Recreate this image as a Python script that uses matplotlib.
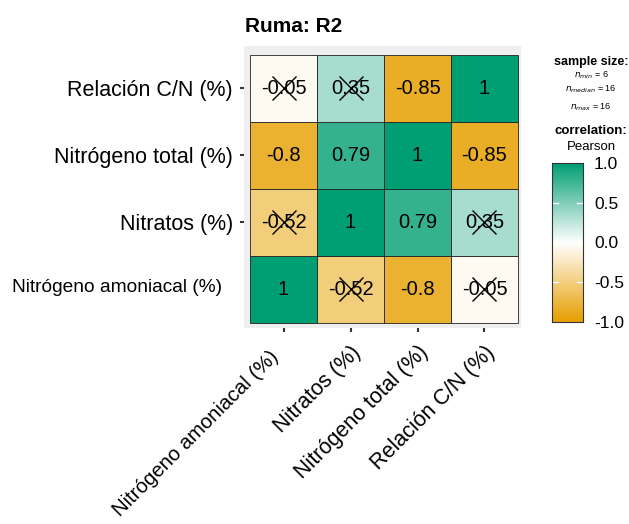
import numpy as np
import matplotlib
matplotlib.use("Agg")
import matplotlib.pyplot as plt
from matplotlib.colors import LinearSegmentedColormap, Normalize
from matplotlib.transforms import ScaledTranslation

plt.rcParams["font.family"] = ["Liberation Sans", "DejaVu Sans"]

# variables, bottom row first (x order = y order)
variables = ["Nitrógeno amoniacal (%)", "Nitratos (%)",
             "Nitrógeno total (%)", "Relación C/N (%)"]
# correlation matrix, rows/cols in the order of `variables`
corr = [
    [1.00, -0.52, -0.80, -0.05],
    [-0.52, 1.00, 0.79, 0.35],
    [-0.80, 0.79, 1.00, -0.85],
    [-0.05, 0.35, -0.85, 1.00],
]
# non significant pairs get crossed out
crossed = [
    [False, True, False, True],
    [True, False, False, True],
    [False, False, False, False],
    [True, True, False, False],
]
cb_ticks = [-1.0, -0.5, 0.0, 0.5, 1.0]

cmap = LinearSegmentedColormap.from_list("gg", ["#E69F00", "white", "#009E73"])
norm = Normalize(-1, 1)

fig = plt.figure(figsize=(6.29, 5.24), dpi=100)
ax = fig.add_axes([244 / 629, 1 - 328 / 524, 277 / 629, 282 / 524])
ax.set_facecolor("#EFEFEF")

n = len(variables)
for i in range(n):          # row (y)
    for j in range(n):      # column (x)
        v = corr[i][j]
        ax.add_patch(plt.Rectangle((j - 0.5, i - 0.5), 1, 1,
                                   facecolor=cmap(norm(v)),
                                   edgecolor="#222222", lw=0.6))
        ax.text(j, i, f"{v:g}", ha="center", va="center",
                fontsize=14.5, color="black")
        if crossed[i][j]:
            ax.plot(j, i, marker="x", ms=17, mew=1.0, color="black")

ax.set_xlim(-0.59, 3.545)
ax.set_ylim(-0.575, 3.634)
for s in ax.spines.values():
    s.set_visible(False)

ax.set_xticks(range(n))
ax.set_xticklabels([""] + variables[1:], rotation=45, ha="right", va="top",
                   rotation_mode="anchor", fontsize=15.5)
ax.set_yticks(range(1, n))
ax.set_yticklabels(variables[1:], fontsize=15.5)
ax.tick_params(axis="both", length=3, width=1.5, color="#333333", pad=5)
ax.tick_params(axis="x", pad=7)

# first x label sits a little off in the original
off = ScaledTranslation(-0.15, -0.19, fig.dpi_scale_trans)
ax.text(0, 0, variables[0], transform=ax.get_xaxis_transform() + off,
        rotation=45, ha="right", va="top", rotation_mode="anchor",
        fontsize=14.8)
fig.text(12 / 629, 1 - 287 / 524, variables[0], ha="left", va="center",
         fontsize=13.8)

fig.text(245 / 629, 1 - 26 / 524, "Ruma: R2", ha="left", va="center",
         fontsize=15, fontweight="bold")

# colour bar
cax = fig.add_axes([552 / 629, 1 - 322 / 524, 31 / 629, 159 / 524])
grad = np.linspace(-1, 1, 256).reshape(-1, 1)
cax.imshow(grad, cmap=cmap, norm=norm, aspect="auto", origin="lower",
           extent=[0, 1, -1, 1])
for t in (-0.5, 0.5):
    cax.plot([0, 0.2], [t, t], color="white", lw=1)
    cax.plot([0.8, 1], [t, t], color="white", lw=1)
cax.set_xlim(0, 1)
cax.set_ylim(-1, 1)
cax.set_xticks([])
cax.yaxis.tick_right()
cax.set_yticks(cb_ticks)
cax.set_yticklabels([f"{t:.1f}" for t in cb_ticks], fontsize=12.5)
cax.tick_params(axis="y", length=0, pad=8)
for s in cax.spines.values():
    s.set_color("#333333")
    s.set_linewidth(0.8)

cx = 591 / 629
fig.text(cx, 1 - 62 / 524, "sample size:", ha="center", va="center",
         fontsize=9, fontweight="bold")
fig.text(cx, 1 - 75 / 524, r"$n_{min}$ = 6", ha="center", va="center", fontsize=6.5)
fig.text(cx, 1 - 89 / 524, r"$n_{median}$ = 16", ha="center", va="center", fontsize=6.5)
fig.text(cx, 1 - 107 / 524, r"$n_{max}$ = 16", ha="center", va="center", fontsize=6.5)
fig.text(cx, 1 - 131 / 524, "correlation:", ha="center", va="center",
         fontsize=9.5, fontweight="bold")
fig.text(cx, 1 - 147 / 524, "Pearson", ha="center", va="center", fontsize=9.5)

fig.savefig("out.png", dpi=100)
